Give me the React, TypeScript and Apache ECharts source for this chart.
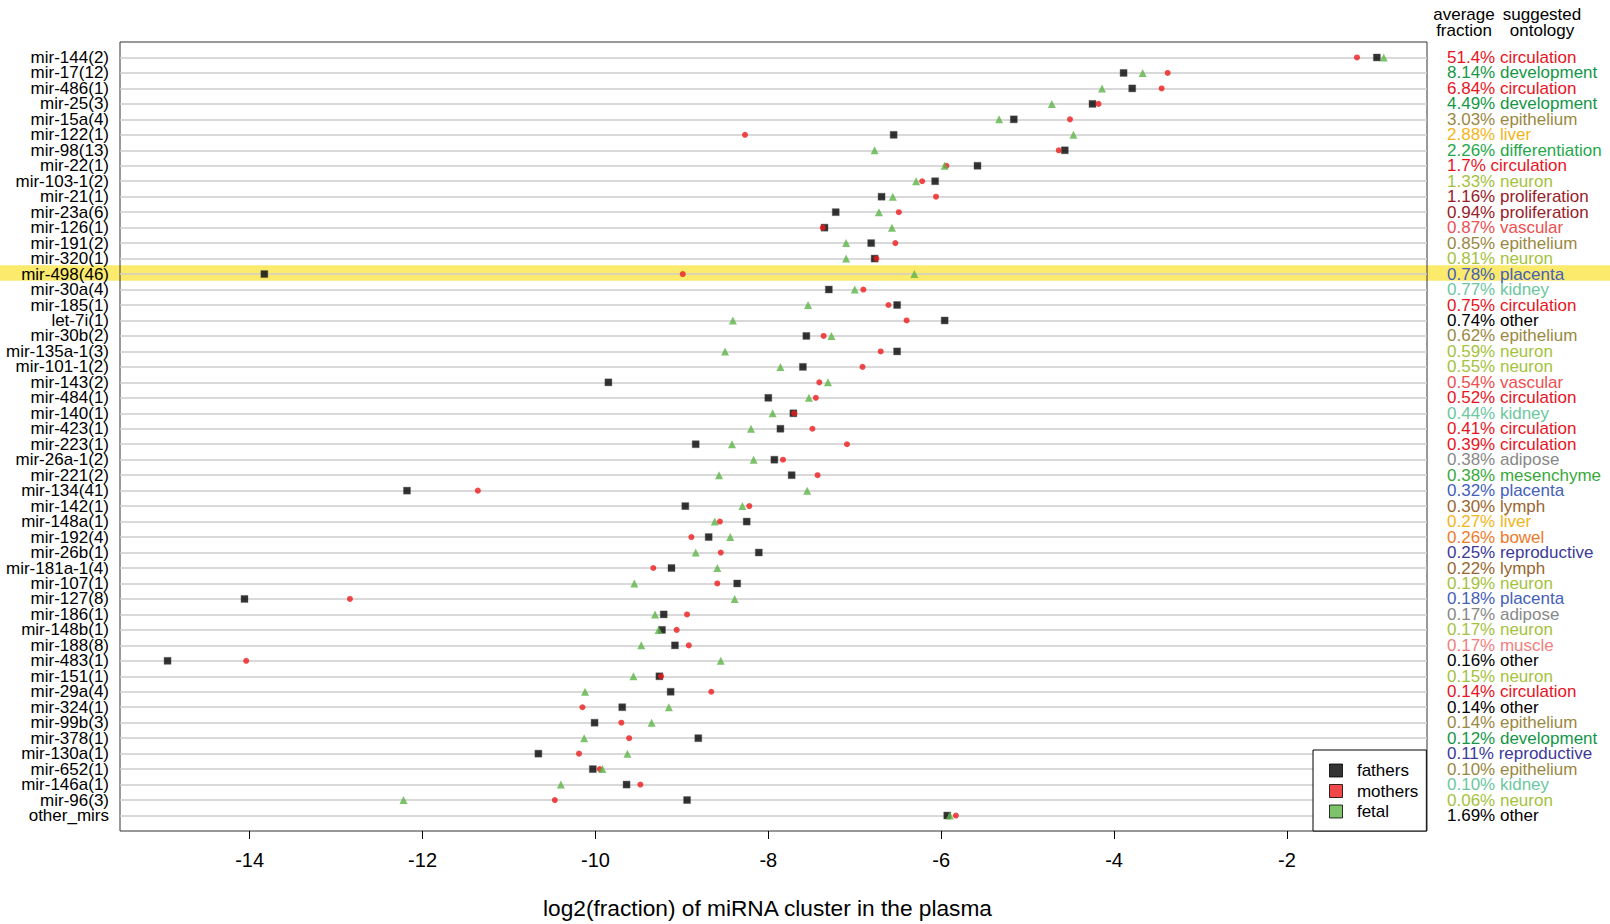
import React, { useEffect, useRef } from 'react';
import * as echarts from 'echarts';

const clusters = [
  'mir-144(2)', 'mir-17(12)', 'mir-486(1)', 'mir-25(3)', 'mir-15a(4)', 'mir-122(1)', 'mir-98(13)',
  'mir-22(1)', 'mir-103-1(2)', 'mir-21(1)', 'mir-23a(6)', 'mir-126(1)', 'mir-191(2)', 'mir-320(1)',
  'mir-498(46)', 'mir-30a(4)', 'mir-185(1)', 'let-7i(1)', 'mir-30b(2)', 'mir-135a-1(3)', 'mir-101-1(2)',
  'mir-143(2)', 'mir-484(1)', 'mir-140(1)', 'mir-423(1)', 'mir-223(1)', 'mir-26a-1(2)', 'mir-221(2)',
  'mir-134(41)', 'mir-142(1)', 'mir-148a(1)', 'mir-192(4)', 'mir-26b(1)', 'mir-181a-1(4)', 'mir-107(1)',
  'mir-127(8)', 'mir-186(1)', 'mir-148b(1)', 'mir-188(8)', 'mir-483(1)', 'mir-151(1)', 'mir-29a(4)',
  'mir-324(1)', 'mir-99b(3)', 'mir-378(1)', 'mir-130a(1)', 'mir-652(1)', 'mir-146a(1)', 'mir-96(3)',
  'other_mirs',
];

const fathers = [
  -0.96, -3.89, -3.79, -4.25, -5.16, -6.55, -4.57, -5.58, -6.07, -6.69,
  -7.22, -7.35, -6.81, -6.77, -13.83, -7.30, -6.51, -5.96, -7.56, -6.51,
  -7.60, -9.85, -8.00, -7.71, -7.86, -8.84, -7.93, -7.73, -12.18, -8.96,
  -8.25, -8.69, -8.11, -9.12, -8.36, -14.06, -9.21, -9.23, -9.08, -14.95,
  -9.26, -9.13, -9.69, -10.01, -8.81, -10.66, -10.03, -9.64, -8.94, -5.93,
];

const mothers = [
  -1.19, -3.38, -3.45, -4.18, -4.51, -8.27, -4.64, -5.94, -6.22, -6.06,
  -6.49, -7.37, -6.53, -6.75, -8.99, -6.90, -6.61, -6.40, -7.36, -6.70,
  -6.91, -7.41, -7.45, -7.70, -7.49, -7.09, -7.83, -7.43, -11.36, -8.22,
  -8.56, -8.89, -8.55, -9.33, -8.59, -12.84, -8.94, -9.06, -8.92, -14.04,
  -9.24, -8.66, -10.15, -9.70, -9.61, -10.19, -9.95, -9.48, -10.47, -5.83,
];

const fetal = [
  -0.88, -3.67, -4.14, -4.72, -5.33, -4.47, -6.77, -5.96, -6.29, -6.56,
  -6.72, -6.57, -7.10, -7.10, -6.31, -7.00, -7.54, -8.41, -7.27, -8.50,
  -7.86, -7.31, -7.53, -7.95, -8.20, -8.42, -8.17, -8.57, -7.55, -8.30,
  -8.62, -8.44, -8.84, -8.59, -9.55, -8.39, -9.31, -9.27, -9.47, -8.55,
  -9.56, -10.12, -9.15, -9.35, -10.13, -9.63, -9.92, -10.40, -12.22, -5.90,
];

const fractions = [
  '51.4%', '8.14%', '6.84%', '4.49%', '3.03%', '2.88%', '2.26%', '1.7%', '1.33%', '1.16%',
  '0.94%', '0.87%', '0.85%', '0.81%', '0.78%', '0.77%', '0.75%', '0.74%', '0.62%', '0.59%',
  '0.55%', '0.54%', '0.52%', '0.44%', '0.41%', '0.39%', '0.38%', '0.38%', '0.32%', '0.30%',
  '0.27%', '0.26%', '0.25%', '0.22%', '0.19%', '0.18%', '0.17%', '0.17%', '0.17%', '0.16%',
  '0.15%', '0.14%', '0.14%', '0.14%', '0.12%', '0.11%', '0.10%', '0.10%', '0.06%', '1.69%',
];

const ontologies = [
  'circulation', 'development', 'circulation', 'development', 'epithelium', 'liver', 'differentiation',
  'circulation', 'neuron', 'proliferation', 'proliferation', 'vascular', 'epithelium', 'neuron',
  'placenta', 'kidney', 'circulation', 'other', 'epithelium', 'neuron', 'neuron',
  'vascular', 'circulation', 'kidney', 'circulation', 'circulation', 'adipose', 'mesenchyme',
  'placenta', 'lymph', 'liver', 'bowel', 'reproductive', 'lymph', 'neuron',
  'placenta', 'adipose', 'neuron', 'muscle', 'other', 'neuron', 'circulation',
  'other', 'epithelium', 'development', 'reproductive', 'epithelium', 'kidney', 'neuron',
  'other',
];

const ontologyColors: Record<string, string> = {
  circulation: '#E8141E',
  development: '#169648',
  epithelium: '#9A8842',
  liver: '#F2B519',
  differentiation: '#24A84A',
  neuron: '#A4C23E',
  proliferation: '#982028',
  vascular: '#EC5050',
  placenta: '#4460B8',
  kidney: '#6CC7A0',
  other: '#000000',
  adipose: '#888888',
  mesenchyme: '#3BA83B',
  lymph: '#9A6630',
  bowel: '#EE7A2A',
  reproductive: '#3C3A9A',
  muscle: '#F28080',
};

const xTicks = [-14, -12, -10, -8, -6, -4, -2];
const highlighted = 'mir-498(46)';
const seriesNames = ['fathers', 'mothers', 'fetal'];
const seriesColors = ['#000000', '#EE1C1C', '#5DB446'];

const FONT = "'Liberation Sans', Arial, Helvetica, sans-serif";

export default function App() {
  const ref = useRef<HTMLDivElement>(null);

  useEffect(() => {
    document.body.style.margin = '0';
    const chart = echarts.init(ref.current!, null, { renderer: 'svg' });

    const rich: Record<string, any> = {};
    Object.keys(ontologyColors).forEach((k) => {
      rich[k] = { color: ontologyColors[k], fontSize: 17, fontFamily: FONT, lineHeight: 15 };
    });

    const toData = (arr: number[]) => arr.map((v, i) => [v, i + 1]);

    const option: any = {
      animation: false,
      textStyle: { fontFamily: FONT },
      grid: {
        left: 120,
        right: 183,
        top: 42,
        bottom: 93,
        show: true,
        borderColor: '#333',
        borderWidth: 1,
        backgroundColor: 'transparent',
      },
      xAxis: {
        type: 'value',
        min: -15.5,
        max: -0.38,
        splitLine: { show: false },
        axisLine: { show: false, onZero: false },
        axisTick: { show: true, length: 8, customValues: xTicks, lineStyle: { color: '#000' } },
        axisLabel: { customValues: xTicks, fontSize: 20, color: '#000', margin: 19, fontFamily: FONT },
        name: 'log2(fraction) of miRNA cluster in the plasma',
        nameLocation: 'middle',
        nameGap: 65,
        nameTextStyle: { fontSize: 22.7, color: '#000', fontFamily: FONT, padding: [0, 12, 0, 0] },
      },
      yAxis: [
        {
          type: 'value',
          min: 0,
          max: 51,
          interval: 1,
          inverse: true,
          axisLine: { show: false, onZero: false },
          axisTick: { show: false },
          axisLabel: {
            formatter: (v: number) => clusters[Math.round(v) - 1] ?? '',
            fontSize: 17,
            lineHeight: 15,
            color: '#000',
            margin: 11,
            fontFamily: FONT,
          },
          splitLine: {
            show: true,
            showMinLine: false,
            showMaxLine: false,
            lineStyle: { color: '#CCCCCC', width: 1.5 },
          },
        },
        {
          type: 'value',
          position: 'right',
          min: 0,
          max: 51,
          interval: 1,
          inverse: true,
          axisLine: { show: false, onZero: false },
          axisTick: { show: false },
          splitLine: { show: false },
          axisLabel: {
            align: 'left',
            margin: 20,
            lineHeight: 15,
            formatter: (v: number) => {
              const i = Math.round(v) - 1;
              if (i < 0 || i >= clusters.length) return '';
              return `{${ontologies[i]}|${fractions[i]} ${ontologies[i]}}`;
            },
            rich,
          },
        },
      ],
      legend: {
        data: seriesNames,
        orient: 'vertical',
        left: 1313,
        top: 750,
        icon: 'rect',
        itemWidth: 13,
        itemHeight: 13,
        itemGap: 3.5,
        padding: [12, 8, 11, 16],
        borderColor: '#000',
        borderWidth: 1,
        borderRadius: 0,
        backgroundColor: '#fff',
        selectedMode: false,
        formatter: '  {name}',
        itemStyle: { borderColor: '#000', borderWidth: 1 },
        textStyle: { fontSize: 17, color: '#000', fontFamily: FONT },
      },
      series: [
        {
          name: seriesNames[0],
          type: 'scatter',
          symbol: 'rect',
          symbolSize: 7,
          itemStyle: { color: seriesColors[0], borderColor: '#555', borderWidth: 0.5 },
          data: toData(fathers),
        },
        {
          name: seriesNames[1],
          type: 'scatter',
          symbol: 'circle',
          symbolSize: 6,
          itemStyle: { color: seriesColors[1] },
          data: toData(mothers),
        },
        {
          name: seriesNames[2],
          type: 'scatter',
          symbol: 'triangle',
          symbolSize: 8,
          itemStyle: { color: seriesColors[2] },
          data: toData(fetal),
        },
      ],
    };

    chart.setOption(option);

    const hIdx = clusters.indexOf(highlighted) + 1;
    const y0 = chart.convertToPixel({ yAxisIndex: 0 }, hIdx - 0.5) as number;
    const y1 = chart.convertToPixel({ yAxisIndex: 0 }, hIdx + 0.5) as number;

    const header = (text: string, x: number, y: number) => ({
      type: 'text',
      x,
      y,
      style: { text, align: 'center', verticalAlign: 'middle', fontSize: 17, fill: '#000', fontFamily: FONT },
    });

    chart.setOption({
      graphic: [
        {
          type: 'rect',
          z: -10,
          silent: true,
          shape: { x: 0, y: Math.min(y0, y1) - 1, width: 1610, height: Math.abs(y1 - y0) },
          style: { fill: '#FBEA6C' },
        },
        header('average', 1464, 14.5),
        header('fraction', 1464, 30),
        header('suggested', 1542, 14.5),
        header('ontology', 1542, 30),
      ],
    });

    return () => {
      chart.dispose();
    };
  }, []);

  return <div ref={ref} style={{ width: 1610, height: 924 }} />;
}
